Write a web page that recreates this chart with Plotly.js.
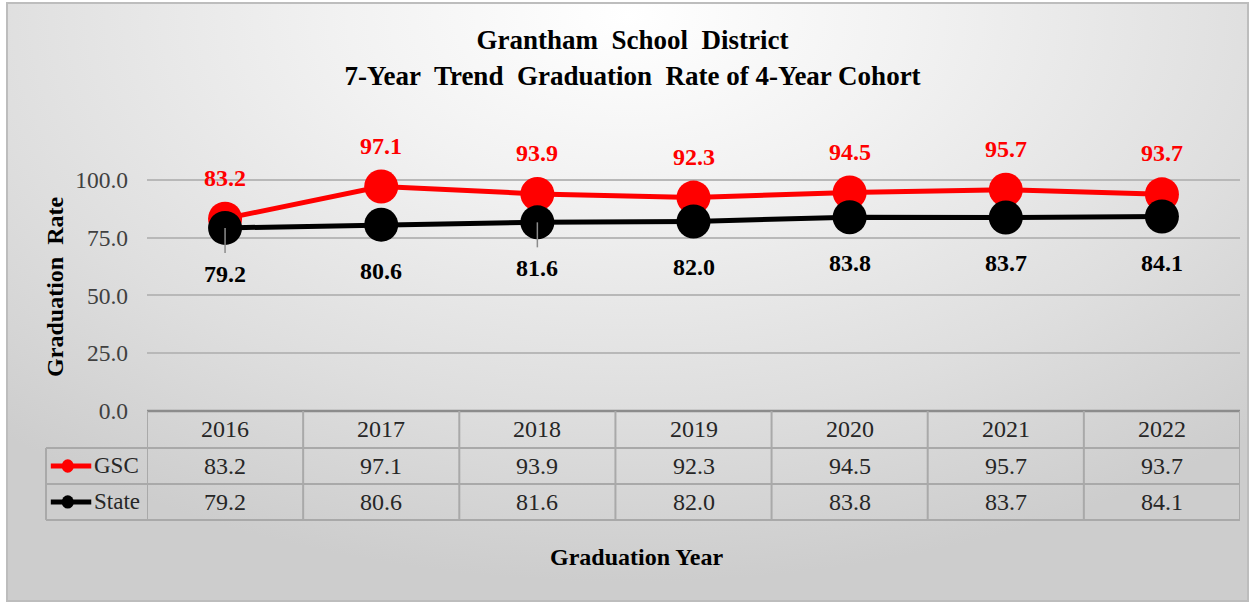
<!DOCTYPE html>
<html><head><meta charset="utf-8">
<script src="https://cdn.plot.ly/plotly-3.0.1.min.js"></script>
<style>
html,body{margin:0;padding:0;background:#fff;width:1255px;height:603px;overflow:hidden;}
#frame{position:absolute;left:6px;top:2px;width:1239px;height:596px;border:2px solid #bdbdbd;
background:radial-gradient(ellipse 75% 95% at 50% 2%, #ffffff 0%, #f2f2f2 30%, #dedede 70%, #cdcdcd 100%);}
#chart{position:absolute;left:0;top:0;width:1255px;height:603px;}
</style></head>
<body>
<div id="frame"></div>
<div id="chart"></div>
<script>
const years = ['2016','2017','2018','2019','2020','2021','2022'];
const gsc = [83.2, 97.1, 93.9, 92.3, 94.5, 95.7, 93.7];
const state = [79.2, 80.6, 81.6, 82.0, 83.8, 83.7, 84.1];
const seriesNames = ['GSC', 'State'];
const seriesColors = ['#ff0000', '#000000'];
const yTicks = [0, 25, 50, 75, 100];
const leaderIdx = [0, 2];

const serif = 'Liberation Serif';
const NB = '\u00A0';
const idx = years.map((_, i) => i);

const traces = [
  {x: idx, y: gsc, type: 'scatter', mode: 'lines+markers', name: seriesNames[0],
   line: {color: seriesColors[0], width: 5}, marker: {color: seriesColors[0], size: 34}, cliponaxis: false},
  {x: idx, y: state, type: 'scatter', mode: 'lines+markers', name: seriesNames[1],
   line: {color: seriesColors[1], width: 5}, marker: {color: seriesColors[1], size: 34}, cliponaxis: false}
];

// table geometry (paper coords relative to plot area)
const rowB = [0, -0.128, -0.2526, -0.377];
const legX0 = -0.0924;
const gridCol = '#a9a9a9';
const shapes = [];
const annotations = [];

// data labels
idx.forEach(i => {
  annotations.push({x: i, y: gsc[i], xref:'x', yref:'y', text: gsc[i].toFixed(1), showarrow:false,
    xanchor:'center', yanchor:'middle', yshift: 41,
    font:{family: serif, size: 24, color: seriesColors[0], weight:'bold'}});
  annotations.push({x: i, y: state[i], xref:'x', yref:'y', text: state[i].toFixed(1), showarrow:false,
    xanchor:'center', yanchor:'middle', yshift: -46,
    font:{family: serif, size: 24, color: seriesColors[1], weight:'bold'}});
});
leaderIdx.forEach(i => {
  shapes.push({type:'line', xref:'x', yref:'y', ysizemode:'pixel', yanchor: state[i], x0:i, x1:i, y0:0, y1:-25,
    line:{color:'#8c8c8c', width:1.5}});
});

// horizontal lines
shapes.push({type:'line', xref:'x', yref:'paper', x0:-0.5, x1:years.length-0.5, y0:rowB[0], y1:rowB[0], line:{color:'#8c8c8c', width:2.5}});
for (let r = 1; r < rowB.length; r++) {
  shapes.push({type:'line', xref:'paper', yref:'paper', x0:legX0, x1:1, y0:rowB[r], y1:rowB[r], line:{color:gridCol, width:2}});
}
// vertical lines
for (let c = 0; c <= years.length; c++) {
  shapes.push({type:'line', xref:'x', yref:'paper', x0:c-0.5, x1:c-0.5, y0:rowB[0], y1:rowB[3], line:{color:gridCol, width:2}});
}
shapes.push({type:'line', xref:'paper', yref:'paper', x0:legX0, x1:legX0, y0:rowB[1], y1:rowB[3], line:{color:gridCol, width:2}});

const rowC = [(rowB[0]+rowB[1])/2, (rowB[1]+rowB[2])/2, (rowB[2]+rowB[3])/2];
const cellFont = {family: serif, size: 24, color: '#262626'};
years.forEach((yr, i) => {
  annotations.push({x: i, y: rowC[0], xref:'x', yref:'paper', xanchor:'center', yanchor:'middle', text: yr, showarrow:false, font: cellFont});
  annotations.push({x: i, y: rowC[1], xref:'x', yref:'paper', xanchor:'center', yanchor:'middle', text: gsc[i].toFixed(1), showarrow:false, font: cellFont});
  annotations.push({x: i, y: rowC[2], xref:'x', yref:'paper', xanchor:'center', yanchor:'middle', text: state[i].toFixed(1), showarrow:false, font: cellFont});
});
// legend keys in table
[1, 2].forEach((r, k) => {
  const y = rowC[r];
  shapes.push({type:'line', xref:'paper', yref:'paper', x0:-0.0880, x1:-0.0510, y0:y, y1:y, line:{color:seriesColors[k], width:5}});
  shapes.push({type:'circle', xref:'paper', yref:'paper', x0:-0.0780, x1:-0.0670, y0:y-0.023, y1:y+0.023, fillcolor:seriesColors[k], line:{color:seriesColors[k], width:0}});
  annotations.push({x:-0.0500, y:y, xref:'paper', yref:'paper', xanchor:'left', yanchor:'middle', text: seriesNames[k], showarrow:false,
    font: {family: serif, size: 23, color: '#262626'}});
});
// axis titles
annotations.push({x:-0.0843, y:0.429, xref:'paper', yref:'paper', xanchor:'center', yanchor:'middle',
  text:'Graduation' + NB + ' Rate', textangle:-90, showarrow:false,
  font:{family: serif, size: 24, color:'#000', weight:'bold'}});
annotations.push({x:0.448, y:-0.505, xref:'paper', yref:'paper', xanchor:'center', yanchor:'middle',
  text:'Graduation Year', showarrow:false,
  font:{family: serif, size: 24, color:'#000', weight:'bold'}});

const layout = {
  width: 1255, height: 603,
  margin: {l: 147, r: 15, t: 122, b: 192},
  paper_bgcolor: 'rgba(0,0,0,0)', plot_bgcolor: 'rgba(0,0,0,0)',
  showlegend: false,
  title: {text: 'Grantham' + NB + ' School' + NB + ' District<br>7-Year' + NB + ' Trend' + NB + ' Graduation' + NB + ' Rate of 4-Year Cohort',
    x: 0.504, xanchor: 'center', y: 0.918, yanchor: 'middle',
    font: {family: serif, size: 27, color: '#000', weight: 'bold'}},
  xaxis: {range: [-0.5, years.length - 0.5], showgrid: false, zeroline: false, showticklabels: false, showline: false, fixedrange: true},
  yaxis: {range: [0, 125], tickvals: yTicks, ticktext: yTicks.map(v => v.toFixed(1)),
    showgrid: true, gridcolor: '#b8b8b8', gridwidth: 2, zeroline: false, showline: false,
    ticks: '', ticklabelstandoff: 18, tickfont: {family: serif, size: 23.5, color: '#404040'}},
  shapes: shapes, annotations: annotations
};
Plotly.newPlot('chart', traces, layout, {displayModeBar: false, staticPlot: true});
</script>
</body></html>
